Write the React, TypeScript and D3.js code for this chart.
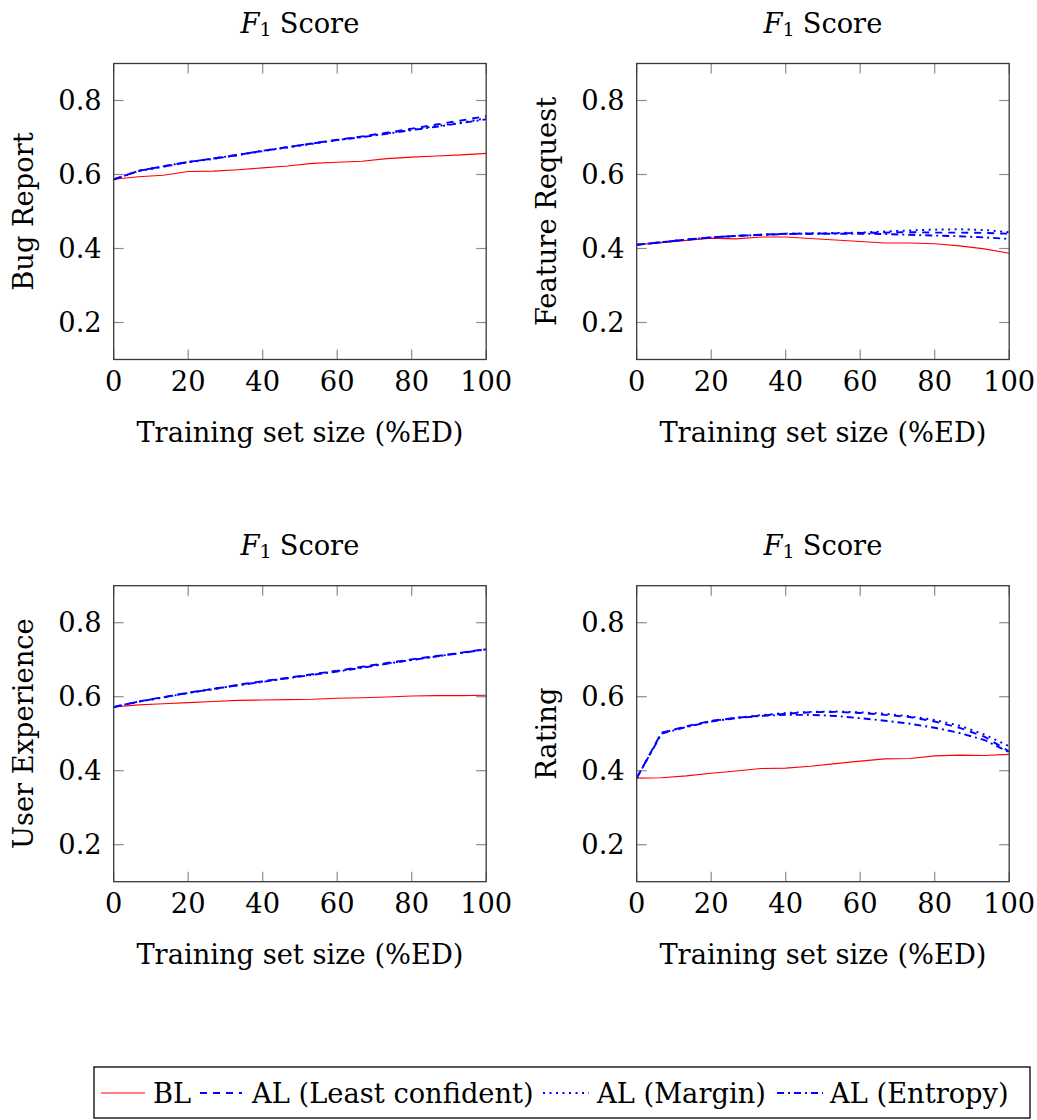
import React from "react";
import * as d3 from "d3";

// Training set sizes (% of evaluation data), shared by every panel
const trainSizes = [0, 6.67, 13.33, 20, 26.67, 33.33, 40, 46.67, 53.33, 60, 66.67, 73.33, 80, 86.67, 93.33, 100];

// Bug Report
const bugBL = [0.587, 0.594, 0.598, 0.608, 0.609, 0.613, 0.618, 0.623, 0.630, 0.633, 0.636, 0.643, 0.647, 0.650, 0.653, 0.657];
const bugLC = [0.587, 0.610, 0.622, 0.634, 0.643, 0.653, 0.664, 0.674, 0.684, 0.694, 0.703, 0.713, 0.724, 0.735, 0.746, 0.758];
const bugMargin = [0.587, 0.609, 0.621, 0.633, 0.642, 0.652, 0.663, 0.673, 0.683, 0.693, 0.702, 0.711, 0.721, 0.731, 0.740, 0.752];
const bugEntropy = [0.587, 0.610, 0.622, 0.634, 0.643, 0.653, 0.664, 0.674, 0.684, 0.693, 0.701, 0.710, 0.720, 0.729, 0.739, 0.749];

// Feature Request
const featBL = [0.410, 0.416, 0.422, 0.428, 0.426, 0.431, 0.431, 0.427, 0.423, 0.419, 0.415, 0.415, 0.413, 0.407, 0.399, 0.387];
const featLC = [0.410, 0.417, 0.424, 0.430, 0.434, 0.437, 0.440, 0.440, 0.441, 0.442, 0.443, 0.444, 0.443, 0.443, 0.442, 0.440];
const featMargin = [0.410, 0.417, 0.424, 0.430, 0.434, 0.437, 0.440, 0.441, 0.442, 0.443, 0.446, 0.449, 0.451, 0.452, 0.450, 0.444];
const featEntropy = [0.410, 0.417, 0.424, 0.430, 0.434, 0.437, 0.439, 0.440, 0.440, 0.440, 0.439, 0.437, 0.435, 0.433, 0.430, 0.426];

// User Experience
const uxBL = [0.572, 0.578, 0.581, 0.584, 0.587, 0.590, 0.591, 0.592, 0.593, 0.596, 0.597, 0.599, 0.602, 0.603, 0.603, 0.604];
const uxLC = [0.572, 0.587, 0.599, 0.611, 0.621, 0.632, 0.642, 0.651, 0.661, 0.670, 0.681, 0.691, 0.701, 0.710, 0.719, 0.729];
const uxMargin = [0.572, 0.586, 0.598, 0.610, 0.620, 0.631, 0.641, 0.650, 0.660, 0.669, 0.680, 0.690, 0.700, 0.709, 0.718, 0.728];
const uxEntropy = [0.572, 0.587, 0.598, 0.610, 0.621, 0.631, 0.640, 0.650, 0.659, 0.668, 0.678, 0.689, 0.699, 0.709, 0.718, 0.728];

// Rating
const ratBL = [0.380, 0.381, 0.386, 0.393, 0.399, 0.406, 0.407, 0.412, 0.419, 0.426, 0.432, 0.433, 0.440, 0.442, 0.441, 0.444];
const ratLC = [0.380, 0.503, 0.520, 0.535, 0.543, 0.549, 0.554, 0.558, 0.559, 0.556, 0.551, 0.545, 0.533, 0.516, 0.492, 0.452];
const ratMargin = [0.380, 0.502, 0.519, 0.534, 0.543, 0.550, 0.556, 0.559, 0.560, 0.558, 0.554, 0.547, 0.537, 0.522, 0.498, 0.466];
const ratEntropy = [0.380, 0.500, 0.518, 0.533, 0.542, 0.548, 0.551, 0.551, 0.548, 0.542, 0.535, 0.527, 0.516, 0.502, 0.483, 0.450];

const panelLabels = ["Bug Report", "Feature Request", "User Experience", "Rating"];
const xTicks = [0, 20, 40, 60, 80, 100];
const yTicks = [0.2, 0.4, 0.6, 0.8];
const seriesNames = ["BL", "AL (Least confident)", "AL (Margin)", "AL (Entropy)"];

const panelSeries = [
  [bugBL, bugLC, bugMargin, bugEntropy],
  [featBL, featLC, featMargin, featEntropy],
  [uxBL, uxLC, uxMargin, uxEntropy],
  [ratBL, ratLC, ratMargin, ratEntropy],
];

const seriesStyle = [
  { stroke: "#ff0000", width: 1.1, dash: "" },
  { stroke: "#0000ff", width: 1.9, dash: "7,6" },
  { stroke: "#0000ff", width: 1.9, dash: "2,4.5" },
  { stroke: "#0000ff", width: 1.9, dash: "7,4,2,4" },
];

const FONT = "DejaVu Serif";
const FS = 27.3;

const plotW = 372.5;
const plotH = 296;
const origins = [
  { x: 113.7, y: 63.5 },
  { x: 636.7, y: 63.5 },
  { x: 113.7, y: 585.7 },
  { x: 636.7, y: 585.7 },
];

function Panel({ idx }: { idx: number }) {
  const o = origins[idx];
  const x = d3.scaleLinear().domain([0, 100]).range([0, plotW]);
  const y = d3.scaleLinear().domain([0.1, 0.9]).range([plotH, 0]);
  const line = (vals: number[]) =>
    d3
      .line<number>()
      .x((_, i) => x(trainSizes[i]))
      .y((v) => y(v))(vals) as string;
  const tickLen = 10;
  const tickColor = "#8c8c8c";
  const clipId = `clip-${idx}`;
  return (
    <g transform={`translate(${o.x},${o.y})`}>
      <defs>
        <clipPath id={clipId}>
          <rect x={0} y={0} width={plotW} height={plotH} />
        </clipPath>
      </defs>
      {/* tick marks on all four sides */}
      {xTicks.map((t) => (
        <g key={`xt${t}`} stroke={tickColor} strokeWidth={1.2}>
          <line x1={x(t)} x2={x(t)} y1={plotH} y2={plotH - tickLen} />
          <line x1={x(t)} x2={x(t)} y1={0} y2={tickLen} />
        </g>
      ))}
      {yTicks.map((t) => (
        <g key={`yt${t}`} stroke={tickColor} strokeWidth={1.2}>
          <line x1={0} x2={tickLen} y1={y(t)} y2={y(t)} />
          <line x1={plotW} x2={plotW - tickLen} y1={y(t)} y2={y(t)} />
        </g>
      ))}
      <g clipPath={`url(#${clipId})`}>
        {panelSeries[idx].map((vals, si) => (
          <path
            key={si}
            d={line(vals)}
            fill="none"
            stroke={seriesStyle[si].stroke}
            strokeWidth={seriesStyle[si].width}
            strokeDasharray={seriesStyle[si].dash || undefined}
            strokeLinejoin="round"
          />
        ))}
      </g>
      <rect x={0} y={0} width={plotW} height={plotH} fill="none" stroke="#3a3a3a" strokeWidth={1.3} />
      {/* tick labels */}
      {xTicks.map((t) => (
        <text key={`xl${t}`} x={x(t)} y={plotH + 22} fontSize={FS} fontFamily={FONT} textAnchor="middle" dominantBaseline="central" fill="#000">
          {t}
        </text>
      ))}
      {yTicks.map((t) => (
        <text key={`yl${t}`} x={-12} y={y(t)} fontSize={FS} fontFamily={FONT} textAnchor="end" dominantBaseline="central" fill="#000">
          {t.toFixed(1)}
        </text>
      ))}
      {/* axis labels */}
      <text x={plotW / 2} y={plotH + 73} fontSize={FS} fontFamily={FONT} textAnchor="middle" dominantBaseline="central" fill="#000">
        Training set size (%ED)
      </text>
      <text
        transform={`translate(${-90},${plotH / 2}) rotate(-90)`}
        fontSize={FS}
        fontFamily={FONT}
        textAnchor="middle"
        dominantBaseline="central"
        fill="#000"
      >
        {panelLabels[idx]}
      </text>
      {/* title */}
      <text x={plotW / 2} y={-41} fontSize={FS} fontFamily={FONT} textAnchor="middle" dominantBaseline="central" fill="#000">
        <tspan fontStyle="italic">F</tspan>
        <tspan fontSize={FS * 0.7} dy={6}>1</tspan>
        <tspan dy={-6} dx={8}>Score</tspan>
      </text>
    </g>
  );
}

function Legend() {
  // entry positions along the legend row: [sample start, sample end, text start]
  const entries = [
    { x0: 101, x1: 145, tx: 153 },
    { x0: 200, x1: 242, tx: 252 },
    { x0: 543, x1: 589, tx: 597 },
    { x0: 777, x1: 823, tx: 830 },
  ];
  const cy = 1093;
  return (
    <g>
      <rect x={94} y={1067} width={936} height={51} fill="#fff" stroke="#000" strokeWidth={1.3} />
      {entries.map((e, i) => (
        <g key={i}>
          <line
            x1={e.x0}
            x2={e.x1}
            y1={cy}
            y2={cy}
            stroke={seriesStyle[i].stroke}
            strokeWidth={seriesStyle[i].width}
            strokeDasharray={seriesStyle[i].dash || undefined}
          />
          <text x={e.tx} y={cy} fontSize={FS} fontFamily={FONT} dominantBaseline="central" fill="#000">
            {seriesNames[i]}
          </text>
        </g>
      ))}
    </g>
  );
}

export default function App() {
  return (
    <svg
      width={1037}
      height={1120}
      style={{ position: "absolute", left: 0, top: 0, background: "#fff" }}
    >
      <rect x={0} y={0} width={1037} height={1120} fill="#fff" />
      {[0, 1, 2, 3].map((i) => (
        <Panel key={i} idx={i} />
      ))}
      <Legend />
    </svg>
  );
}
